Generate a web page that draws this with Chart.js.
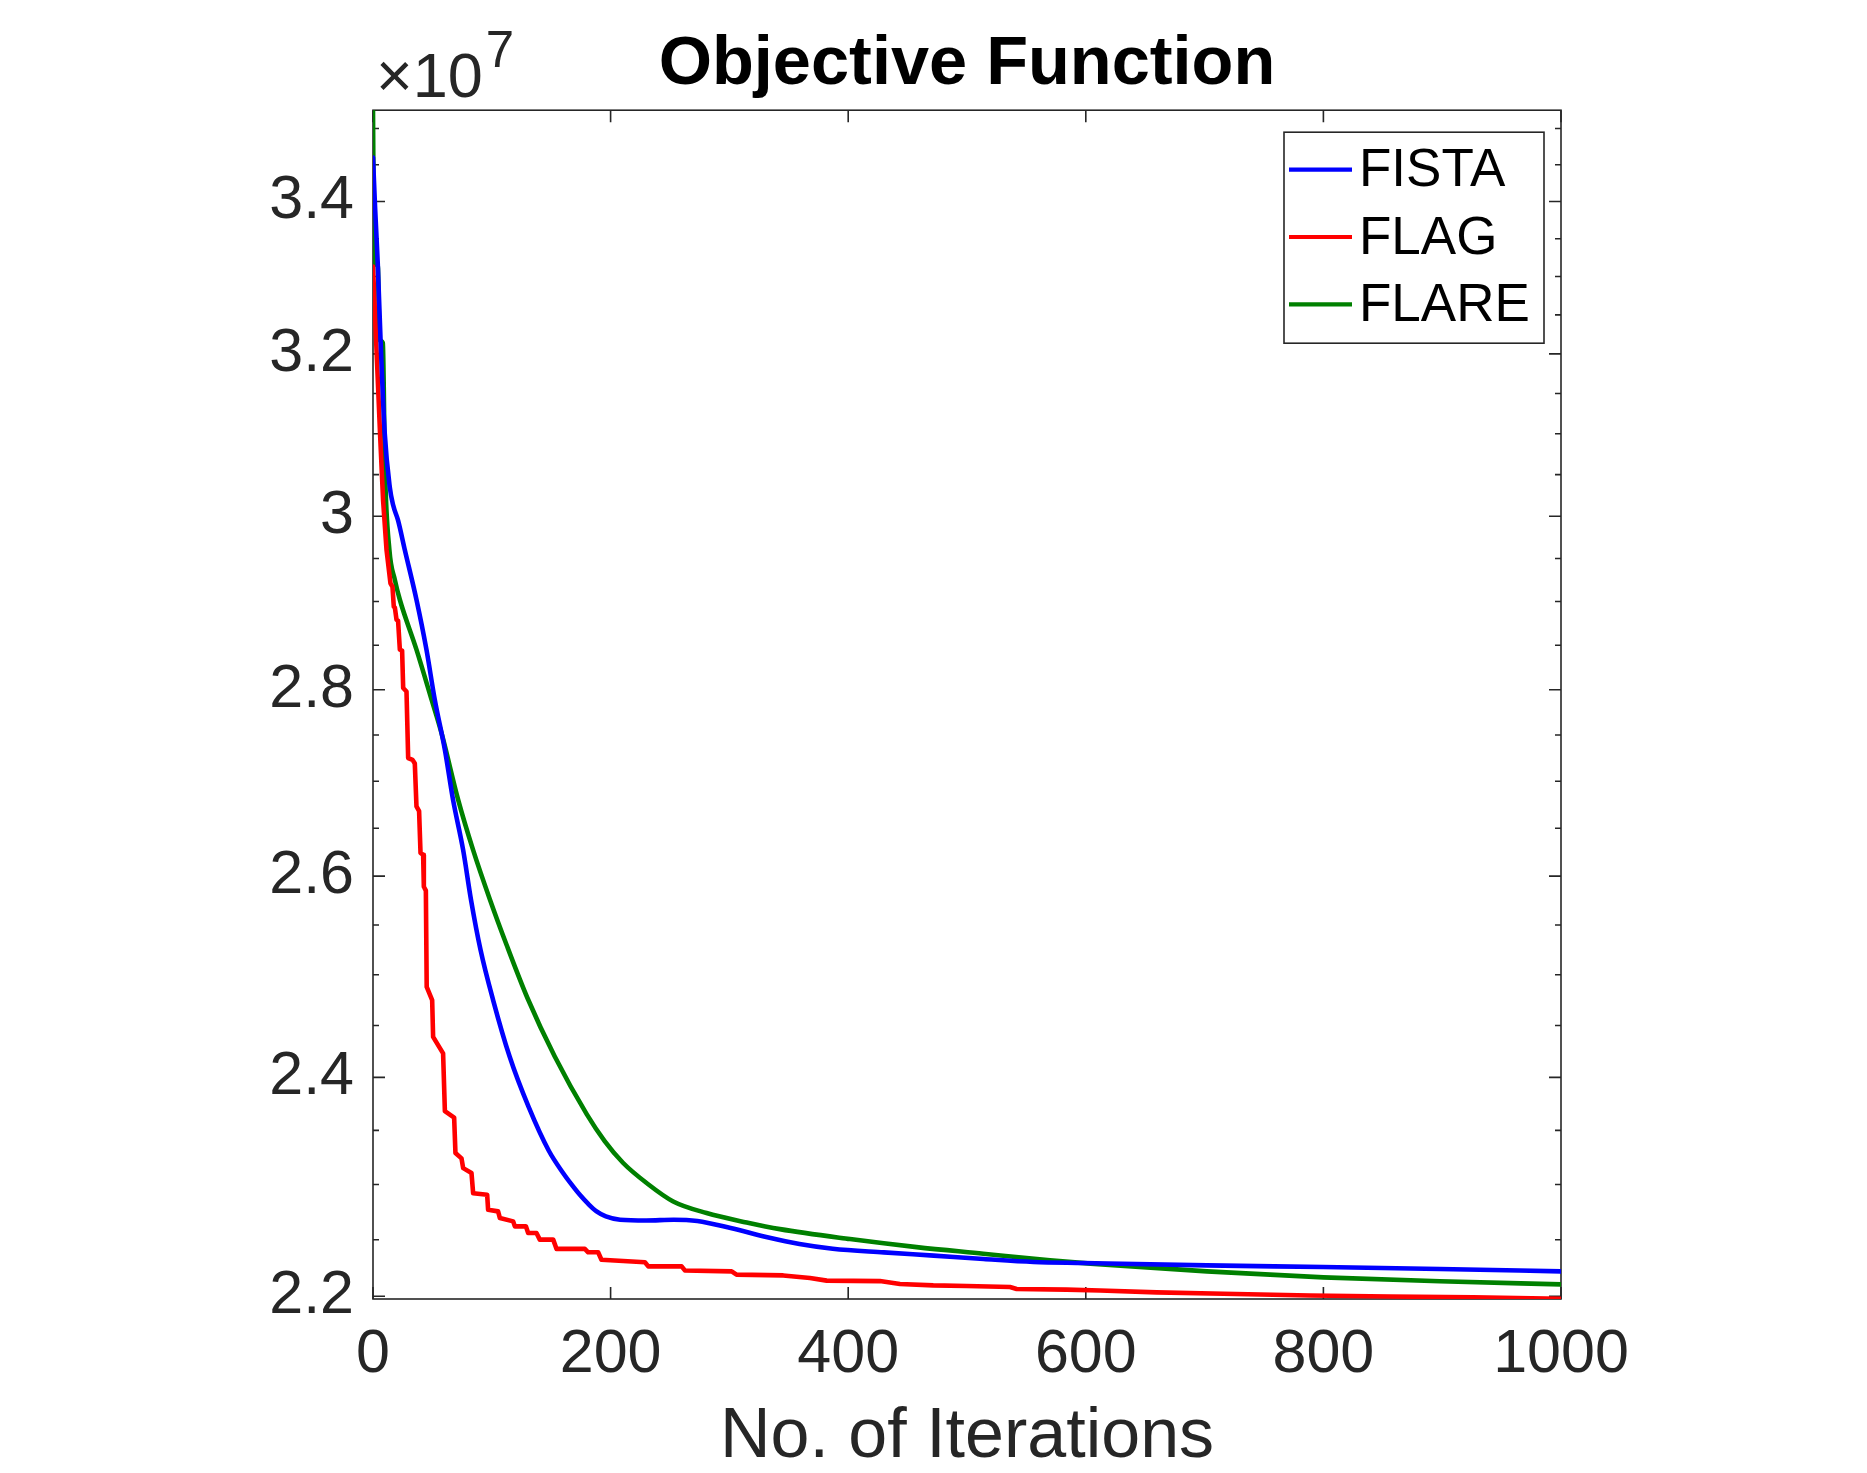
<!DOCTYPE html>
<html><head><meta charset="utf-8">
<script src="https://cdn.jsdelivr.net/npm/chart.js@4.4.0/dist/chart.umd.min.js"></script>
<style>html,body{margin:0;padding:0;background:#fff;}canvas{display:block;}</style>
</head><body>
<canvas id="c" width="1867" height="1473" style="width:1867px;height:1473px"></canvas>
<script>
// ---- data (objective values in units of 1e7) ----
const seriesNames = ['FISTA', 'FLAG', 'FLARE'];
const seriesColors = ['#0000ff', '#ff0000', '#008000'];

const fistaIter = [0, 1.8, 4, 6.3, 9.9, 14.1, 17, 21.1, 26.8, 36.6, 45, 52, 60.5, 67.4, 75.9, 82.5, 90.5, 101.1, 115, 131, 148, 160, 167.1, 174.1, 181, 188.2, 196, 208, 230, 253, 273, 301, 331, 359, 387, 430, 472, 514, 556, 598, 702, 800, 898, 1000];
const fistaObj = [3.46, 3.39, 3.317, 3.22, 3.10, 3.035, 3.013, 2.995, 2.960, 2.902, 2.845, 2.789, 2.734, 2.680, 2.627, 2.5756, 2.525, 2.475, 2.420, 2.372, 2.331, 2.3105, 2.300, 2.2905, 2.2825, 2.2755, 2.271, 2.268, 2.2673, 2.268, 2.2668, 2.2605, 2.2525, 2.2462, 2.2420, 2.2387, 2.2358, 2.2328, 2.2302, 2.2293, 2.2272, 2.2257, 2.2240, 2.2219];

const flagIter = [0, 6, 8.5, 11.4, 14.7, 16.4, 17.5, 18.4, 19.8, 21.1, 22.6, 24.5, 25.4, 28.2, 29.6, 33.3, 35.2, 36.6, 38.8, 40, 42.2, 42.8, 44.5, 45.2, 49.8, 50.6, 59, 60.5, 68.3, 69.4, 74.5, 75.9, 82.9, 84.3, 96.1, 96.9, 105.3, 106.8, 118, 119.4, 128.7, 130.6, 137.6, 140.4, 151.7, 154.5, 178.3, 181.1, 189.5, 192.3, 228.9, 231.7, 259.8, 262.5, 301.9, 306, 345.3, 367.8, 381.9, 426.7, 443.6, 471.6, 499.7, 536.2, 541.8, 583.9, 612, 659.7, 715.8, 788.8, 856.2, 926.3, 1000];
const flagObj = [3.313, 3.098, 3.019, 2.960, 2.921, 2.917, 2.894, 2.893, 2.879, 2.878, 2.845, 2.844, 2.802, 2.798, 2.725, 2.723, 2.719, 2.673, 2.668, 2.624, 2.622, 2.589, 2.585, 2.488, 2.475, 2.439, 2.423, 2.368, 2.362, 2.329, 2.324, 2.315, 2.3105, 2.292, 2.2906, 2.277, 2.2755, 2.2695, 2.2665, 2.262, 2.262, 2.2561, 2.2561, 2.2501, 2.2501, 2.2418, 2.2418, 2.2388, 2.2388, 2.2322, 2.2299, 2.2263, 2.2263, 2.2227, 2.2219, 2.2190, 2.2183, 2.2161, 2.2137, 2.2133, 2.2108, 2.2095, 2.2090, 2.2081, 2.2064, 2.2058, 2.2051, 2.2034, 2.2022, 2.2007, 2.1998, 2.1990, 2.1978];

const flareIter = [0, 1, 4, 5.5, 8.3, 10, 13.8, 18.4, 22.6, 36.6, 49.3, 57.7, 71.7, 84.3, 98.4, 112.4, 130, 153, 180, 195, 210.6, 230.3, 252.7, 280.8, 314.5, 342.5, 401.5, 457.6, 513.7, 569.9, 604, 702, 800, 898, 1000];
const flareObj = [3.5256, 3.317, 3.315, 3.218, 3.214, 3.06, 2.960, 2.925, 2.902, 2.845, 2.789, 2.752, 2.680, 2.627, 2.576, 2.530, 2.477, 2.420, 2.365, 2.340, 2.3197, 2.3013, 2.2845, 2.2740, 2.2655, 2.2595, 2.2506, 2.2434, 2.2375, 2.2316, 2.2287, 2.2219, 2.2166, 2.2131, 2.2104];

const xTicks = [0, 200, 400, 600, 800, 1000];
const yMajorTicks = [2.2, 2.4, 2.6, 2.8, 3, 3.2, 3.4];
const yTickLabels = ['2.2', '2.4', '2.6', '2.8', '3', '3.2', '3.4'];
const yMinorTicks = [2.25, 2.3, 2.35, 2.45, 2.5, 2.55, 2.65, 2.7, 2.75, 2.85, 2.9, 2.95, 3.05, 3.1, 3.15, 3.25, 3.3, 3.35, 3.45, 3.5];
const yMin = 2.1976, yMax = 3.5256;
const titleText = 'Objective Function';
const xTitleText = 'No. of Iterations';
const exponentBase = '\u00d710', exponentPower = '7';

// ---- rendering ----
const FONT = '"Liberation Sans", Arial, Helvetica, sans-serif';
const AXIS = '#262626';
Chart.defaults.font.family = FONT;

function pts(xs, ys) { return xs.map((x, i) => ({ x: x, y: ys[i] })); }

const framePlugin = {
  id: 'frame',
  beforeDatasetsDraw(chart) {
    const { ctx, chartArea: { left, right, top, bottom }, scales: { x, y } } = chart;
    ctx.save();
    ctx.strokeStyle = AXIS;
    ctx.lineWidth = 1.6;
    ctx.beginPath();
    xTicks.forEach(v => {
      const px = x.getPixelForValue(v);
      ctx.moveTo(px, bottom); ctx.lineTo(px, bottom - 12);
      ctx.moveTo(px, top); ctx.lineTo(px, top + 12);
    });
    yMajorTicks.forEach(v => {
      const py = y.getPixelForValue(v);
      ctx.moveTo(left, py); ctx.lineTo(left + 12, py);
      ctx.moveTo(right, py); ctx.lineTo(right - 12, py);
    });
    yMinorTicks.forEach(v => {
      const py = y.getPixelForValue(v);
      ctx.moveTo(left, py); ctx.lineTo(left + 6, py);
      ctx.moveTo(right, py); ctx.lineTo(right - 6, py);
    });
    ctx.stroke();
    ctx.strokeRect(left, top, right - left, bottom - top);
    ctx.restore();
  },
  afterDraw(chart) {
    const { ctx, chartArea: { left, top } } = chart;
    ctx.save();
    ctx.fillStyle = AXIS;
    ctx.textBaseline = 'alphabetic';
    ctx.textAlign = 'left';
    ctx.font = '63px ' + FONT;
    const bx = left + 3;
    ctx.fillText(exponentBase, bx, top - 13);
    const w = ctx.measureText(exponentBase).width;
    ctx.font = '51px ' + FONT;
    ctx.fillText(exponentPower, bx + w + 3, top - 43);
    ctx.restore();
  }
};

const legendPlugin = {
  id: 'boxLegend',
  afterDatasetsDraw(chart) {
    const { ctx, chartArea } = chart;
    const w = 260, h = 211;
    const x0 = chartArea.right - 17 - w, y0 = chartArea.top + 22;
    ctx.save();
    ctx.fillStyle = '#ffffff';
    ctx.fillRect(x0, y0, w, h);
    ctx.strokeStyle = AXIS;
    ctx.lineWidth = 1.6;
    ctx.strokeRect(x0, y0, w, h);
    chart.data.datasets.forEach((ds, i) => {
      const cy = y0 + 37.5 + i * 67.3;
      ctx.strokeStyle = ds.borderColor;
      ctx.lineWidth = 4.2;
      ctx.beginPath();
      ctx.moveTo(x0 + 5, cy); ctx.lineTo(x0 + 68, cy);
      ctx.stroke();
      ctx.fillStyle = '#000000';
      ctx.font = '53px ' + FONT;
      ctx.textBaseline = 'middle';
      ctx.textAlign = 'left';
      ctx.fillText(ds.label, x0 + 75, cy + 2);
    });
    ctx.restore();
  }
};

new Chart(document.getElementById('c'), {
  type: 'line',
  data: {
    datasets: [
      { label: seriesNames[0], data: pts(fistaIter, fistaObj), borderColor: seriesColors[0], cubicInterpolationMode: 'monotone' },
      { label: seriesNames[1], data: pts(flagIter, flagObj), borderColor: seriesColors[1], tension: 0 },
      { label: seriesNames[2], data: pts(flareIter, flareObj), borderColor: seriesColors[2], cubicInterpolationMode: 'monotone' }
    ]
  },
  options: {
    responsive: false,
    devicePixelRatio: 1,
    animation: false,
    events: [],
    layout: { padding: { left: 0, right: 306, top: 0, bottom: 0 } },
    elements: {
      point: { radius: 0, hoverRadius: 0 },
      line: { borderWidth: 4.6, fill: false, borderJoinStyle: 'round', borderCapStyle: 'round' }
    },
    plugins: {
      legend: { display: false },
      tooltip: { enabled: false },
      title: {
        display: true, text: titleText, fullSize: false, color: '#000000',
        font: { size: 68.5, weight: 'bold', family: FONT },
        padding: { top: 24, bottom: 4 }
      }
    },
    scales: {
      x: {
        type: 'linear', min: 0, max: 1000,
        afterBuildTicks(s) { s.ticks = xTicks.map(v => ({ value: v })); },
        afterFit(s) { s.height = 174; },
        grid: { display: false, drawTicks: false },
        border: { display: false },
        ticks: { padding: 20, maxRotation: 0, autoSkip: false, color: AXIS, font: { size: 61, family: FONT }, callback: v => String(v) },
        title: { display: true, text: xTitleText, color: AXIS, font: { size: 70, family: FONT }, padding: { top: 0, bottom: -7 } }
      },
      y: {
        type: 'logarithmic', min: yMin, max: yMax,
        afterBuildTicks(s) { s.ticks = yMajorTicks.map(v => ({ value: v })); },
        afterFit(s) { s.width = 373; },
        grid: { display: false, drawTicks: false },
        border: { display: false },
        ticks: {
          padding: 19, autoSkip: false, color: AXIS, font: { size: 61, family: FONT },
          callback: v => { const i = yMajorTicks.findIndex(m => Math.abs(m - v) < 1e-9); return i >= 0 ? yTickLabels[i] : ''; }
        }
      }
    }
  },
  plugins: [framePlugin, legendPlugin]
});
</script>
</body></html>
